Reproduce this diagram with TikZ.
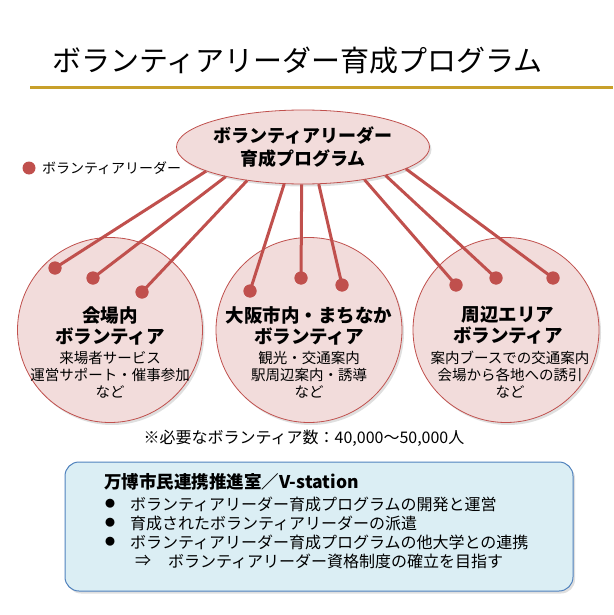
\documentclass[tikz,border=0pt]{standalone}
\usepackage{fontspec}
\setmainfont{Noto Sans CJK JP}
\usetikzlibrary{shapes.geometric,shadows}
\definecolor{pinkfill}{RGB}{242,220,219}
\definecolor{redline}{RGB}{192,80,77}
\definecolor{gold}{RGB}{200,160,42}
\definecolor{boxfill}{RGB}{219,238,244}
\definecolor{boxline}{RGB}{79,129,189}
\tikzset{
  softshadow/.style={drop shadow={opacity=0.25,shadow xshift=2pt,shadow yshift=-2.5pt}},
  bubble/.style={ellipse,draw=redline,line width=0.8pt,fill=pinkfill,softshadow,inner sep=0pt},
  leaderdot/.style={circle,fill=redline,inner sep=0pt,minimum size=13pt},
  link/.style={draw=redline,line width=3pt},
  txt/.style={inner sep=0pt,outer sep=0pt},
  headtxt/.style={txt,align=center,font=\bfseries\fontsize{18.5}{21}\selectfont},
  smalltxt/.style={txt,align=center,font=\fontsize{14.5}{17}\selectfont},
  boxtxt/.style={txt,anchor=west,font=\fontsize{16}{19}\selectfont}
}
\begin{document}
\begin{tikzpicture}[x=1pt,y=-1pt]
\useasboundingbox (0,0) rectangle (613,615);
% title
\node[txt,anchor=west,font=\fontsize{29}{32}\selectfont] (title) at (52,60) {ボランティアリーダー育成プログラム};
\coordinate (g1) at (30,87.5);
\coordinate (g2) at (613,87.5);
\draw[gold,line width=3pt] (g1) -- (g2);
% legend
\node[leaderdot] (legdot) at (29,168) {};
\node[txt,anchor=west,font=\fontsize{14}{16}\selectfont] (legtxt) at (42,168) {ボランティアリーダー};
% three circles
\node[bubble,minimum width=185pt,minimum height=185pt] (cL) at (110,330) {};
\node[bubble,minimum width=186pt,minimum height=185pt] (cM) at (309,330) {};
\node[bubble,minimum width=186pt,minimum height=185pt] (cR) at (506,330) {};
% top ellipse
\node[bubble,minimum width=252pt,minimum height=74pt,font=\bfseries\fontsize{18}{23}\selectfont,align=center] (top) at (303,147) {ボランティアリーダー\\育成プログラム};
% dots
\node[leaderdot] (l1) at (55,268) {};
\node[leaderdot] (l2) at (93,278) {};
\node[leaderdot] (l3) at (142,292) {};
\node[leaderdot] (m1) at (250,291) {};
\node[leaderdot] (m2) at (301,278) {};
\node[leaderdot] (m3) at (342,285) {};
\node[leaderdot] (r1) at (456,285) {};
\node[leaderdot] (r2) at (496,278) {};
\node[leaderdot] (r3) at (553,278) {};
% links
\draw[link] (top.194) -- (l1.center);
\draw[link] (top.201) -- (l2.center);
\draw[link] (top.211) -- (l3.center);
\draw[link] (top.243) -- (m1.center);
\draw[link] (top.268) -- (m2.center);
\draw[link] (top.293) -- (m3.center);
\draw[link] (top.332) -- (r1.center);
\draw[link] (top.341) -- (r2.center);
\draw[link] (top.348) -- (r3.center);
% redraw dots on top
\foreach \d in {l1,l2,l3,m1,m2,m3,r1,r2,r3}{\fill[redline] (\d) circle (6.5pt);}
% circle texts
\node[headtxt] (hL) at (110,325.5) {会場内\\ボランティア};
\node[smalltxt] (sL) at (110,375) {来場者サービス\\運営サポート・催事参加\\など};
\node[headtxt] (hM) at (309,325.5) {大阪市内・まちなか\\ボランティア};
\node[smalltxt] (sM) at (309,375) {観光・交通案内\\駅周辺案内・誘導\\など};
\node[headtxt] (hR) at (508,325.5) {周辺エリア\\ボランティア};
\node[smalltxt] (sR) at (510,375) {案内ブースでの交通案内\\会場から各地への誘引\\など};
% note
\node[txt,font=\fontsize{16}{18}\selectfont] (note) at (304,438) {※必要なボランティア数：40,000～50,000人};
% bottom box
\path[draw=boxline,line width=1pt,fill=boxfill,rounded corners=14pt,softshadow] (65,462) rectangle (573,591);
\node[txt,anchor=west,font=\bfseries\fontsize{17.5}{20}\selectfont] (bt) at (104,482) {万博市民連携推進室／V-station};
\node[boxtxt,font=\fontsize{10}{12}\selectfont] (b1d) at (105,504) {●};
\node[boxtxt] (b1) at (130,504) {ボランティアリーダー育成プログラムの開発と運営};
\node[boxtxt,font=\fontsize{10}{12}\selectfont] (b2d) at (105,523) {●};
\node[boxtxt] (b2) at (130,523) {育成されたボランティアリーダーの派遣};
\node[boxtxt,font=\fontsize{10}{12}\selectfont] (b3d) at (105,542) {●};
\node[boxtxt] (b3) at (130,542) {ボランティアリーダー育成プログラムの他大学との連携};
\node[boxtxt] (b4a) at (135,561) {⇒};
\node[boxtxt] (b4) at (168,561) {ボランティアリーダー資格制度の確立を目指す};
\end{tikzpicture}
\end{document}
